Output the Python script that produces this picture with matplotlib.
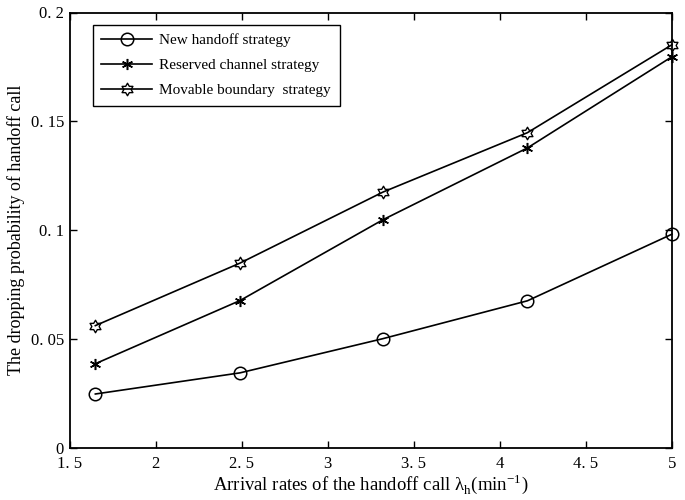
import matplotlib
matplotlib.use("Agg")
import matplotlib.pyplot as plt
from matplotlib.path import Path
import numpy as np

x = [1.65, 2.49, 3.32, 4.16, 5.0]
new_handoff = [0.0248, 0.0345, 0.0502, 0.0676, 0.0982]
reserved = [0.0387, 0.0677, 0.1048, 0.1378, 0.1797]
movable = [0.0562, 0.0849, 0.1175, 0.1448, 0.1852]
labels = ["New handoff strategy", "Reserved channel strategy", "Movable boundary  strategy"]
xticks = [1.5, 2, 2.5, 3, 3.5, 4, 4.5, 5]
xticklabels = ["1. 5", "2", "2. 5", "3", "3. 5", "4", "4. 5", "5"]
yticks = [0, 0.05, 0.1, 0.15, 0.2]
yticklabels = ["0", "0. 05", "0. 1", "0. 15", "0. 2"]

plt.rcParams['font.family'] = ['Liberation Serif', 'DejaVu Serif']
plt.rcParams['mathtext.fontset'] = 'custom'
plt.rcParams['mathtext.rm'] = 'Liberation Serif'

# hexagram marker outline
ang = np.deg2rad(np.arange(12) * 30 + 90)
rad = np.array([1.0 if i % 2 == 0 else 0.58 for i in range(12)])
verts = np.column_stack([rad * np.cos(ang), rad * np.sin(ang)])
verts = np.vstack([verts, verts[0]])
codes = [Path.MOVETO] + [Path.LINETO] * 11 + [Path.CLOSEPOLY]
hexagram = Path(verts, codes)

fig = plt.figure(figsize=(6.85, 5.0), dpi=100)
ax = fig.add_axes([0.1015, 0.104, 0.8795, 0.871])

ax.plot(x, new_handoff, color='black', lw=1.2, marker='o', ms=9,
        mfc='none', mec='black', mew=1.1, label=labels[0], clip_on=False)
ax.plot(x, reserved, color='black', lw=1.2, marker=(6, 2, 0), ms=8,
        mec='black', mew=1.1, label=labels[1], clip_on=False)
ax.plot(x, movable, color='black', lw=1.2, marker=hexagram, ms=9,
        mfc='none', mec='black', mew=1.0, label=labels[2], clip_on=False)

ax.set_xlim(1.5, 5)
ax.set_ylim(0, 0.2)
ax.set_xticks(xticks)
ax.set_xticklabels(xticklabels)
ax.set_yticks(yticks)
ax.set_yticklabels(yticklabels)
ax.tick_params(direction='in', top=True, right=True, length=5, width=1,
               labelsize=12)
ax.tick_params(axis='x', pad=6)
ax.tick_params(axis='y', pad=4)
for s in ax.spines.values():
    s.set_linewidth(1.3)

ax.set_xlabel('Arrival rates of the handoff call λ$_{\\mathrm{h}}$(min$^{\\mathrm{-1}}$)',
              fontsize=13.5, labelpad=0)
ax.set_ylabel('The dropping probability of handoff call', fontsize=13, labelpad=4)

leg = ax.legend(loc='upper left', bbox_to_anchor=(0.039, 0.972), borderaxespad=0,
                fancybox=False, edgecolor='black', fontsize=11, handlelength=3.3,
                handletextpad=0.5, framealpha=1, labelspacing=0.75, borderpad=0.55)
leg.get_frame().set_linewidth(1.0)

fig.savefig('out.png', dpi=100)
